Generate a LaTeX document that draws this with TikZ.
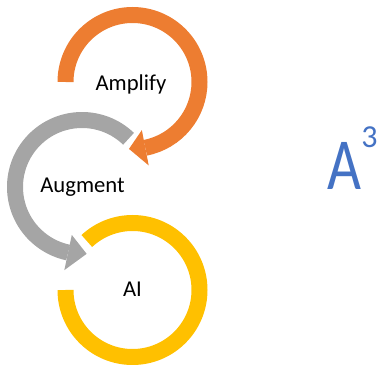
\documentclass[tikz,border=0pt]{standalone}
\usepackage{fontspec}
\setmainfont{Carlito}
\usepackage{tikz}

\definecolor{amporange}{HTML}{ED7D31}
\definecolor{auggray}{HTML}{A5A5A5}
\definecolor{aiyellow}{HTML}{FFC000}
\definecolor{titleblue}{HTML}{4472C4}

\begin{document}
\begin{tikzpicture}[x=0.75pt,y=0.75pt,
  ring/.style={line width=12pt,line cap=butt},
  main node/.style={font=\fontsize{17}{20}\selectfont,anchor=base,inner sep=0pt}]

  \useasboundingbox (0,0) rectangle (383,365);

  % Amplify ring, arrow into Augment
  \begin{scope}[shift={(132.5,283)}]
    \draw[ring,amporange] (180:67) arc (180:-79:67);
    \fill[amporange] (-79:49) -- (-79:85) -- (-93:67) -- cycle;
  \end{scope}

  % Augment ring, arrow into AI
  \begin{scope}[shift={(82,178)}]
    \draw[ring,auggray] (46:67) arc (46:258:67);
    \fill[auggray] (258:49) -- (258:85) -- (274:67) -- cycle;
  \end{scope}

  % AI ring
  \begin{scope}[shift={(132.5,75)}]
    \draw[ring,aiyellow] (180:67) arc (180:493:67);
  \end{scope}

  \node[main node] (amplify) at (131,274) {Amplify};
  \node[main node] (augment) at (82.5,172) {Augment};
  \node[main node] (ai) at (132.5,68) {AI};

  \node[font=\fontsize{55}{60}\selectfont,text=titleblue,anchor=base,inner sep=0pt]
    (a) at (344,175) {\scalebox{0.8}[1]{A}};
  \node[font=\fontsize{24}{26}\selectfont,text=titleblue,anchor=base west,inner sep=0pt]
    (cube) at (361,217) {3};
\end{tikzpicture}
\end{document}
